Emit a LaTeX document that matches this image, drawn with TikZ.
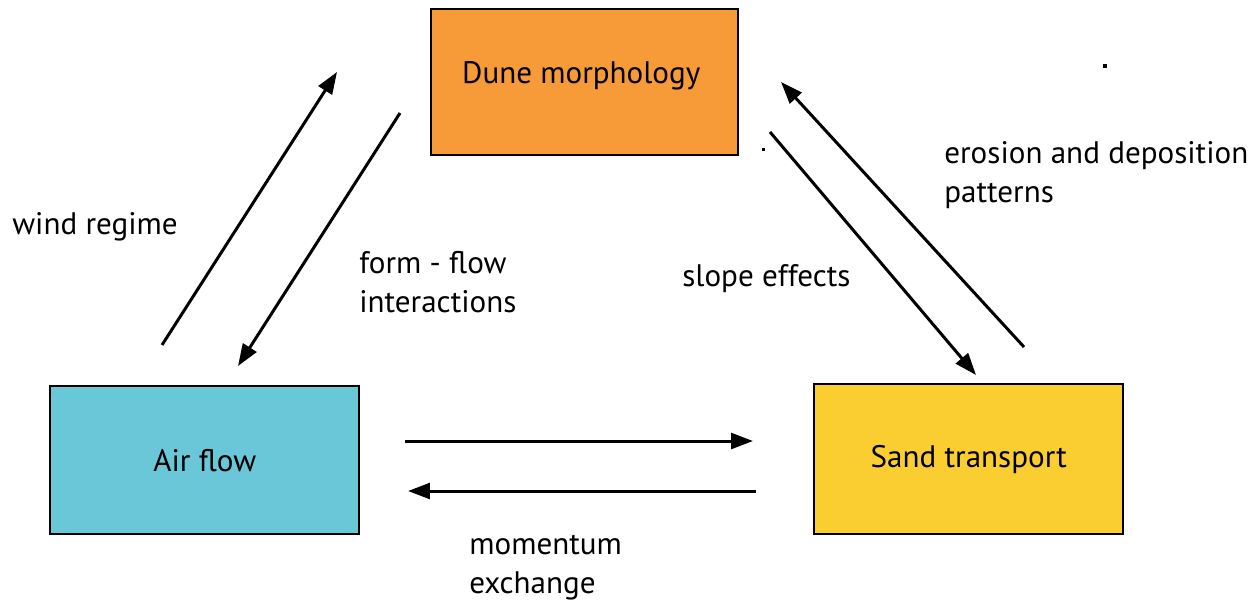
\documentclass[tikz,border=0pt]{standalone}
\usepackage{fontspec}
\setmainfont{PT Sans}
\usepackage{tikz}
\usetikzlibrary{positioning,calc}
\usetikzlibrary{arrows.meta}
\definecolor{DuneOrange}{RGB}{247,154,56}
\definecolor{AirCyan}{RGB}{106,199,216}
\definecolor{SandYellow}{RGB}{250,205,48}
\tikzset{
  box/.style={draw=black,line width=1.4pt,inner sep=0pt,anchor=north west,
    font=\fontsize{17.7}{22}\selectfont},
  link/.style={draw=black,line width=1.7pt,-{Triangle[length=12.5pt,width=9pt]}},
  note/.style={anchor=west,align=left,inner sep=0pt,
    font=\fontsize{17.7}{22.2}\selectfont},
}

\begin{document}
\begin{tikzpicture}[x=0.02cm,y=-0.02cm]
\useasboundingbox (0,0) rectangle (1256,606);
\node[box,fill=DuneOrange,minimum width=307*0.02cm,minimum height=146*0.02cm,
  label={[font=\fontsize{17.7}{22}\selectfont,xshift=-0.07cm,yshift=0.12cm]center:Dune morphology}]
  (dune) at (430,8) {};
\node[box,fill=AirCyan,minimum width=309*0.02cm,minimum height=148*0.02cm]
  (air) at (49,385) {Air flow};
\node[box,fill=SandYellow,minimum width=309*0.02cm,minimum height=150*0.02cm]
  (sand) at (813,383) {Sand transport};
\coordinate (w1) at (162,345);
\coordinate (w2) at (337,72);
\coordinate (f1) at (400,113);
\coordinate (f2) at (238,366);
\coordinate (s1) at (770,132);
\coordinate (s2) at (976,375);
\coordinate (e1) at (1024,347);
\coordinate (e2) at (781,82);
\coordinate (m1) at (405,441);
\coordinate (m2) at (753,441);
\coordinate (m3) at (756,491);
\coordinate (m4) at (408,491);
\draw[link] (w1)--(w2);
\draw[link] (f1)--(f2);
\draw[link] (s1)--(s2);
\draw[link] (e1)--(e2);
\draw[link] (m1)--(m2);
\draw[link] (m3)--(m4);
\node[note] (windtxt) at (12,227) {wind regime};
\node[note] (formtxt) at (359,282.5) {form - flow\\interactions};
\node[note] (slopetxt) at (682,279) {slope effects};
\node[note] (erotxt) at (944,175.5) {erosion and deposition\\patterns};
\node[note] (momtxt) at (469,568) {momentum\\exchange};
\fill (761.5,147.5) rectangle (765,151);
\fill (1103,64) rectangle (1107,68);
\end{tikzpicture}
\end{document}
